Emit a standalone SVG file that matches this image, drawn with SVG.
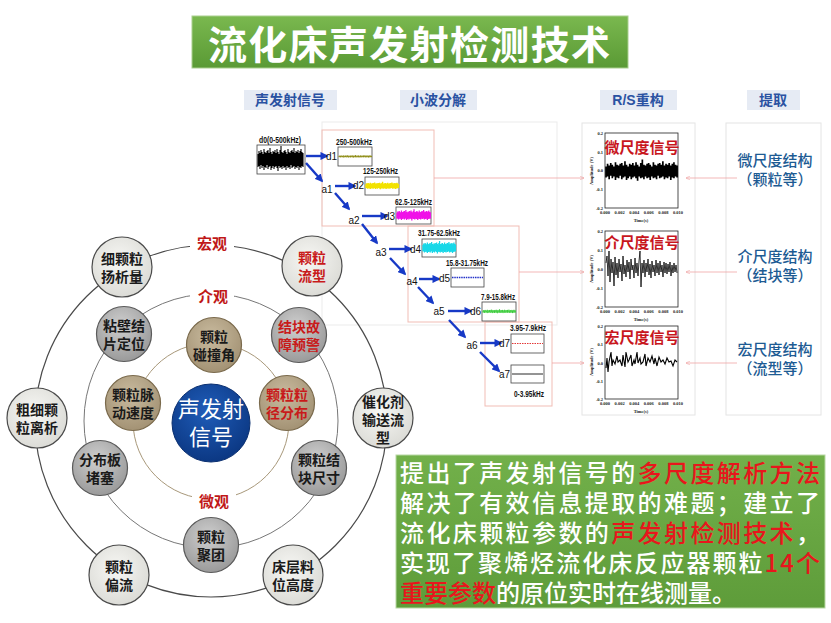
<svg xmlns="http://www.w3.org/2000/svg" width="831" height="623" viewBox="0 0 831 623">
<style>
.cjk{font-family:"Noto Sans CJK SC","Noto Sans",sans-serif}
.hdr{fill:#e6ebf4}
.ht{font-family:"Liberation Sans","Noto Sans CJK SC",sans-serif;font-size:14px;font-weight:bold;fill:#2a52a2;text-anchor:middle}
.lb{font-family:"Liberation Sans",sans-serif;font-size:10px;fill:#111}
.fq{font-family:"Liberation Sans",sans-serif;font-size:9px;font-weight:bold;fill:#111}
.box{fill:#fff;stroke:#444;stroke-width:0.8}
.arw{stroke:#1739c6;stroke-width:2.4;fill:none;marker-end:url(#ab)}
.pk{fill:none;stroke:#f1bdb5;stroke-width:1}
.pka{stroke:#f0a4a4;stroke-width:0.8;fill:none;marker-end:url(#pa)}
.frm{fill:#fff;stroke:#e4e4e4;stroke-width:1}
.ax{fill:#fff;stroke:#222;stroke-width:0.8}
.tk{font-family:"Liberation Serif",serif;font-size:4.5px;font-weight:bold;fill:#222}
.sg{font-family:"Noto Sans CJK SC",sans-serif;font-size:15px;font-weight:bold;fill:#c8161d;text-anchor:middle}
.ex{font-family:"Noto Sans CJK SC",sans-serif;font-size:15px;font-weight:500;fill:#1d5b93;text-anchor:middle}
.nt{font-family:"Noto Sans CJK SC",sans-serif;font-size:14px;font-weight:bold;fill:#1a1a1a;text-anchor:middle;dominant-baseline:central}
.rd{fill:#c81a1a}
.ro{fill:url(#go);stroke:#4a4a4a;stroke-width:1.2}
.rm{fill:url(#gm);stroke:#5a5a5a;stroke-width:1.2}
.ri{fill:url(#gi);stroke:#7a6a4c;stroke-width:1.2}
.rl{font-family:"Noto Sans CJK SC",sans-serif;font-size:15px;font-weight:bold;fill:#c01818;text-anchor:middle;dominant-baseline:central}
.bt{font-family:"Noto Sans CJK SC",sans-serif;font-size:24px;font-weight:500;fill:#fff}
.br{fill:#e8161c}
</style>
<defs>
<marker id="ab" viewBox="0 0 10 10" refX="8" refY="5" markerWidth="3.4" markerHeight="3.4" orient="auto" markerUnits="strokeWidth"><path d="M0,0 L10,5 L0,10 z" fill="#1739c6"/></marker>
<marker id="pa" viewBox="0 0 10 10" refX="9" refY="5" markerWidth="6" markerHeight="6" orient="auto" markerUnits="strokeWidth"><path d="M0,1 L10,5 L0,9" fill="none" stroke="#f0a4a4" stroke-width="1.2"/></marker>
<linearGradient id="gt" x1="0" y1="0" x2="0" y2="1"><stop offset="0" stop-color="#7ab84f"/><stop offset="1" stop-color="#5a9a35"/></linearGradient>
<linearGradient id="gb" x1="0" y1="0" x2="0" y2="1"><stop offset="0" stop-color="#72b04a"/><stop offset="1" stop-color="#5e9c3a"/></linearGradient>
<radialGradient id="go" cx="0.45" cy="0.4" r="0.6"><stop offset="0" stop-color="#f7f7f4"/><stop offset="1" stop-color="#dcdcd7"/></radialGradient>
<radialGradient id="gm" cx="0.45" cy="0.35" r="0.65"><stop offset="0" stop-color="#cfcfcf"/><stop offset="1" stop-color="#9a9a9a"/></radialGradient>
<radialGradient id="gi" cx="0.45" cy="0.35" r="0.65"><stop offset="0" stop-color="#c9bb9f"/><stop offset="1" stop-color="#a39274"/></radialGradient>
<radialGradient id="gc" cx="0.45" cy="0.35" r="0.7"><stop offset="0" stop-color="#1f5cb8"/><stop offset="1" stop-color="#0a357f"/></radialGradient>
<path id="nz" vector-effect="non-scaling-stroke" d="M0,-6V7M1,-9V6M2,-7V9M3,-10V5M4,-8V8M5,-6V6M6,-11V10M7,-8V7M8,-7V8M9,-9V5M10,-10V9M11,-7V7M12,-12V6M13,-8V10M14,-6V8M15,-9V6M16,-8V9M17,-10V7M18,-7V6M19,-11V8M20,-8V11M21,-6V6M22,-10V8M23,-14V7M24,-8V9M25,-7V6M26,-9V8M27,-10V7M28,-8V10M29,-6V6M30,-11V8M31,-8V7M32,-7V9M33,-9V5M34,-10V8M35,-8V7M36,-12V6M37,-7V9M38,-9V7M39,-8V8M40,-10V6M41,-7V10M42,-9V7M43,-11V8M44,-8V6M45,-7V7"/>
</defs>
<rect width="831" height="623" fill="#fff"/>

<g id="title">
<rect x="192" y="16" width="436" height="52" fill="url(#gt)" stroke="#a9cf8e" stroke-width="1"/>
<text x="208" y="59" class="cjk" font-size="39" font-weight="bold" fill="#fff" textLength="402" lengthAdjust="spacing">流化床声发射检测技术</text>
</g>

<g id="headers">
<rect class="hdr" x="244" y="90" width="93" height="20"/><text class="ht" x="290" y="105">声发射信号</text>
<rect class="hdr" x="400" y="90" width="77" height="20"/><text class="ht" x="438" y="105">小波分解</text>
<rect class="hdr" x="600" y="90" width="77" height="20"/><text class="ht" x="638" y="105">R/S重构</text>
<rect class="hdr" x="747" y="90" width="53" height="20"/><text class="ht" x="773" y="105">提取</text>
</g>

<g id="frames">
<rect x="322" y="122" width="235" height="203" fill="none" stroke="#ebebeb"/>
<rect class="pk" x="322" y="130" width="112" height="96"/>
<rect class="pk" x="408" y="226" width="111" height="96"/>
<rect class="pk" x="485" y="322" width="67" height="84"/>
<rect class="frm" x="582" y="123" width="113" height="292"/>
<rect class="frm" x="726" y="123" width="95" height="292"/>
</g>

<g id="connectors">
<line class="arw" x1="306" y1="156" x2="327" y2="156"/>
<line class="arw" x1="306" y1="163" x2="322" y2="181"/>
<line class="arw" x1="335" y1="186" x2="355" y2="186"/>
<line class="arw" x1="335" y1="193" x2="349" y2="209"/>
<line class="arw" x1="362" y1="216" x2="387" y2="216"/>
<line class="arw" x1="362" y1="224" x2="377" y2="243"/>
<line class="arw" x1="389" y1="249" x2="411" y2="249"/>
<line class="arw" x1="390" y1="258" x2="405" y2="274"/>
<line class="arw" x1="419" y1="279" x2="439" y2="279"/>
<line class="arw" x1="418" y1="287" x2="433" y2="303"/>
<line class="arw" x1="448" y1="311" x2="471" y2="311"/>
<line class="arw" x1="449" y1="320" x2="465" y2="337"/>
<line class="arw" x1="480" y1="343" x2="501" y2="343"/>
<line class="arw" x1="480" y1="352" x2="499" y2="371"/>
<line class="pka" x1="434" y1="178" x2="584" y2="178"/>
<line class="pka" x1="519" y1="272" x2="584" y2="272"/>
<line class="pka" x1="552" y1="363" x2="584" y2="363"/>
<line class="pka" x1="737" y1="178" x2="686" y2="178"/>
<line class="pka" x1="737" y1="272" x2="686" y2="272"/>
<line class="pka" x1="737" y1="363" x2="686" y2="363"/>
</g>

<g id="d0">
<text class="fq" x="259" y="143" textLength="42" lengthAdjust="spacingAndGlyphs">d0(0-500kHz)</text>
<rect class="box" x="257" y="145" width="48" height="29"/>
<use href="#nz" transform="translate(258,160)" stroke="#000" stroke-width="1.1"/>
</g>

<g id="wavelet">
<text class="fq" x="336" y="145" textLength="36" lengthAdjust="spacingAndGlyphs">250-500kHz</text>
<rect class="box" x="338" y="147" width="34" height="19"/>
<use href="#nz" transform="translate(339,156.5) scale(0.72,0.1)" stroke="#8c8a10" stroke-width="1"/>
<text class="lb" x="337" y="160" text-anchor="end">d1</text>

<text class="lb" x="327" y="193" text-anchor="middle">a1</text>

<text class="fq" x="363" y="174" textLength="35" lengthAdjust="spacingAndGlyphs">125-250kHz</text>
<rect class="box" x="365" y="177" width="34" height="18"/>
<use href="#nz" transform="translate(366,186) scale(0.72,0.3)" stroke="#f2e200" stroke-width="1.4"/>
<text class="lb" x="364" y="189" text-anchor="end">d2</text>

<text class="lb" x="354" y="224" text-anchor="middle">a2</text>

<text class="fq" x="395" y="205" textLength="37" lengthAdjust="spacingAndGlyphs">62.5-125kHz</text>
<rect class="box" x="396" y="207" width="35" height="17"/>
<use href="#nz" transform="translate(397,215.5) scale(0.74,0.45)" stroke="#f010e8" stroke-width="1.3"/>
<text class="lb" x="395" y="220" text-anchor="end">d3</text>

<text class="lb" x="381" y="256" text-anchor="middle">a3</text>

<text class="fq" x="418" y="236" textLength="42" lengthAdjust="spacingAndGlyphs">31.75-62.5kHz</text>
<rect class="box" x="422" y="239" width="34" height="18"/>
<use href="#nz" transform="translate(423,248) scale(0.72,0.5)" stroke="#18d8e8" stroke-width="1.3"/>
<text class="lb" x="421" y="253" text-anchor="end">d4</text>

<text class="lb" x="412" y="285" text-anchor="middle">a4</text>

<text class="fq" x="446" y="266" textLength="42" lengthAdjust="spacingAndGlyphs">15.8-31.75kHz</text>
<rect class="box" x="451" y="268" width="33" height="19"/>
<line x1="452" y1="277.5" x2="483" y2="277.5" stroke="#2230c8" stroke-width="1.6" stroke-dasharray="1.5,0.8"/>
<text class="lb" x="450" y="282" text-anchor="end">d5</text>

<text class="lb" x="439" y="315" text-anchor="middle">a5</text>

<text class="fq" x="481" y="300" textLength="34" lengthAdjust="spacingAndGlyphs">7.9-15.8kHz</text>
<rect class="box" x="482" y="302" width="34" height="19"/>
<use href="#nz" transform="translate(483,311.5) scale(0.72,0.16)" stroke="#3ccc3c" stroke-width="1"/>
<text class="lb" x="481" y="315" text-anchor="end">d6</text>

<text class="lb" x="472" y="349" text-anchor="middle">a6</text>

<text class="fq" x="510" y="331" textLength="36" lengthAdjust="spacingAndGlyphs">3.95-7.9kHz</text>
<rect class="box" x="511" y="334" width="33" height="19"/>
<line x1="512" y1="343.5" x2="543" y2="343.5" stroke="#e02020" stroke-width="0.9" stroke-dasharray="1.5,1"/>
<text class="lb" x="510" y="347" text-anchor="end">d7</text>

<rect class="box" x="511" y="365" width="33" height="18"/>
<line x1="512" y1="374" x2="543" y2="374" stroke="#111" stroke-width="0.9"/>
<text class="lb" x="510" y="378" text-anchor="end">a7</text>
<text class="fq" x="514" y="397" textLength="30" lengthAdjust="spacingAndGlyphs">0-3.95kHz</text>
</g>

<g id="rs1">
<rect class="ax" x="605" y="133" width="73" height="75"/>
<use href="#nz" transform="translate(606,171.5) scale(1.58,0.85)" stroke="#000" stroke-width="1.7"/>
<text class="sg" x="642" y="153">微尺度信号</text>
<g class="tk" text-anchor="end"><text x="603" y="135">0.2</text><text x="603" y="153.5">0.1</text><text x="603" y="172">0.0</text><text x="603" y="191">-0.1</text><text x="603" y="209.5">-0.2</text></g>
<g class="tk" text-anchor="middle"><text x="605" y="214">0.000</text><text x="619.6" y="214">0.002</text><text x="634.2" y="214">0.004</text><text x="648.8" y="214">0.006</text><text x="663.4" y="214">0.008</text><text x="678" y="214">0.010</text><text x="641" y="222">Time(s)</text></g>
<text class="tk" text-anchor="middle" transform="translate(593,171) rotate(-90)">Amplitude (V)</text>
</g>

<g id="rs2">
<rect class="ax" x="605" y="231" width="73" height="76"/>
<polyline fill="none" stroke="#000" stroke-width="0.8" points="606,263 607,256 608,276 609,251 610,282 611,259 612,273 613,262 614,286 615,257 616,275 617,263 618,278 619,259 620,272 621,264 622,281 623,256 624,274 625,265 626,277 627,260 628,272 629,262 630,279 631,259 632,270 633,265 634,278 635,258 636,273 637,263 638,276 639,261 640,251 641,287 642,263 643,273 644,260 645,277 646,263 647,272 648,259 649,275 650,264 651,278 652,261 653,272 654,265 655,276 656,260 657,273 658,263 659,275 660,261 661,272 662,265 663,277 664,262 665,273 666,263 667,274 668,264 669,272 670,262 671,276 672,265 673,273 674,263 675,272 676,265 677,273"/>
<text class="sg" x="642" y="248">介尺度信号</text>
<g class="tk" text-anchor="end"><text x="603" y="233">0.2</text><text x="603" y="252">0.1</text><text x="603" y="271">0.0</text><text x="603" y="290">-0.1</text><text x="603" y="309">-0.2</text></g>
<g class="tk" text-anchor="middle"><text x="605" y="313">0.000</text><text x="619.6" y="313">0.002</text><text x="634.2" y="313">0.004</text><text x="648.8" y="313">0.006</text><text x="663.4" y="313">0.008</text><text x="678" y="313">0.010</text><text x="641" y="321">Time(s)</text></g>
<text class="tk" text-anchor="middle" transform="translate(593,269) rotate(-90)">Amplitude (V)</text>
</g>

<g id="rs3">
<rect class="ax" x="605" y="326" width="73" height="73"/>
<polyline fill="none" stroke="#000" stroke-width="1.1" points="606,368 607,358 608,372 609,362 611,352 612,366 613,360 615,364 617,356 618,362 620,360 622,366 623,355 625,367 626,352 628,362 629,360 631,355 632,366 634,360 635,364 637,352 638,363 640,358 641,364 643,362 645,354 646,366 648,358 650,362 652,356 654,364 655,358 657,366 659,357 661,362 663,360 665,364 667,358 669,362 671,361 673,366 675,360 677,362"/>
<text class="sg" x="642" y="343">宏尺度信号</text>
<g class="tk" text-anchor="end"><text x="603" y="328">0.2</text><text x="603" y="346">0.1</text><text x="603" y="364.5">0.0</text><text x="603" y="383">-0.1</text><text x="603" y="401">-0.2</text></g>
<g class="tk" text-anchor="middle"><text x="605" y="405">0.000</text><text x="619.6" y="405">0.002</text><text x="634.2" y="405">0.004</text><text x="648.8" y="405">0.006</text><text x="663.4" y="405">0.008</text><text x="678" y="405">0.010</text><text x="641" y="413">Time(s)</text></g>
<text class="tk" text-anchor="middle" transform="translate(593,362) rotate(-90)">Amplitude (V)</text>
</g>

<g id="extract">
<text class="ex" x="775" y="166">微尺度结构</text>
<text class="ex" x="775" y="185">（颗粒等）</text>
<text class="ex" x="775" y="262">介尺度结构</text>
<text class="ex" x="775" y="281">（结块等）</text>
<text class="ex" x="775" y="355">宏尺度结构</text>
<text class="ex" x="775" y="374">（流型等）</text>
</g>

<g id="rings">
<circle cx="211" cy="421" r="176" fill="none" stroke="#4a4a4a" stroke-width="1.2"/>
<circle cx="211" cy="421" r="127" fill="none" stroke="#777" stroke-width="1"/>
<circle cx="211" cy="421" r="78" fill="none" stroke="#a8987a" stroke-width="1"/>
<rect x="190" y="232" width="44" height="20" fill="#fff"/><text class="rl" x="212" y="242">宏观</text>
<rect x="190" y="285" width="44" height="20" fill="#fff"/><text class="rl" x="213" y="295">介观</text>
<rect x="192" y="490" width="44" height="20" fill="#fff"/><text class="rl" x="214" y="500">微观</text>
</g>

<g id="center"><circle cx="211" cy="423" r="39" fill="url(#gc)" stroke="#0a2f70" stroke-width="1"/>
<text class="cjk" x="211" y="417" font-size="22" fill="#fff" text-anchor="middle">声发射</text>
<text class="cjk" x="211" y="445" font-size="22" fill="#fff" text-anchor="middle">信号</text></g>

<g id="n1"><circle class="ro" cx="122" cy="267" r="30"/><text class="nt" x="122" y="258">细颗粒</text><text class="nt" x="122" y="276">扬析量</text></g>
<g id="n2"><circle class="ro" cx="312" cy="266" r="30"/><text class="nt rd" x="312" y="257">颗粒</text><text class="nt rd" x="312" y="275">流型</text></g>
<g id="n3"><circle class="ro" cx="37" cy="418" r="30"/><text class="nt" x="37" y="409">粗细颗</text><text class="nt" x="37" y="427">粒离析</text></g>
<g id="n4"><circle class="ro" cx="383" cy="418" r="30"/><text class="nt" x="383" y="401">催化剂</text><text class="nt" x="383" y="419">输送流</text><text class="nt" x="383" y="437">型</text></g>
<g id="n5"><circle class="ro" cx="119" cy="575" r="30"/><text class="nt" x="119" y="566">颗粒</text><text class="nt" x="119" y="584">偏流</text></g>
<g id="n6"><circle class="ro" cx="293" cy="575" r="30"/><text class="nt" x="293" y="566">床层料</text><text class="nt" x="293" y="584">位高度</text></g>

<g id="n7"><circle class="rm" cx="124" cy="334" r="27.5"/><text class="nt" x="124" y="325">粘壁结</text><text class="nt" x="124" y="343">片定位</text></g>
<g id="n8"><circle class="rm" cx="299" cy="335" r="27.5"/><text class="nt rd" x="299" y="326">结块故</text><text class="nt rd" x="299" y="344">障预警</text></g>
<g id="n9"><circle class="rm" cx="100" cy="468" r="27.5"/><text class="nt" x="100" y="459">分布板</text><text class="nt" x="100" y="477">堵塞</text></g>
<g id="n10"><circle class="rm" cx="319" cy="468" r="27.5"/><text class="nt" x="319" y="459">颗粒结</text><text class="nt" x="319" y="477">块尺寸</text></g>
<g id="n11"><circle class="rm" cx="211" cy="545" r="27.5"/><text class="nt" x="211" y="536">颗粒</text><text class="nt" x="211" y="554">聚团</text></g>

<g id="n12"><circle class="ri" cx="214" cy="345" r="27.5"/><text class="nt" x="214" y="336">颗粒</text><text class="nt" x="214" y="354">碰撞角</text></g>
<g id="n13"><circle class="ri" cx="133" cy="403" r="27.5"/><text class="nt" x="133" y="394">颗粒脉</text><text class="nt" x="133" y="412">动速度</text></g>
<g id="n14"><circle class="ri" cx="287" cy="403" r="27.5"/><text class="nt rd" x="287" y="394">颗粒粒</text><text class="nt rd" x="287" y="412">径分布</text></g>

<g id="summary">
<rect x="396" y="455" width="429" height="153" fill="url(#gb)" stroke="#b8d8a4" stroke-width="1"/>
<text class="bt" x="400" y="482" textLength="420" lengthAdjust="spacing">提出了声发射信号的<tspan class="br">多尺度解析方法</tspan></text>
<text class="bt" x="400" y="512" textLength="420" lengthAdjust="spacing">解决了有效信息提取的难题；建立了</text>
<text class="bt" x="400" y="542" textLength="420" lengthAdjust="spacing">流化床颗粒参数的<tspan class="br">声发射检测技术</tspan>，</text>
<text class="bt" x="400" y="572" textLength="420" lengthAdjust="spacing">实现了聚烯烃流化床反应器颗粒<tspan class="br">14个</tspan></text>
<text class="bt" x="400" y="602"><tspan class="br">重要参数</tspan>的原位实时在线测量。</text>
</g>
</svg>
